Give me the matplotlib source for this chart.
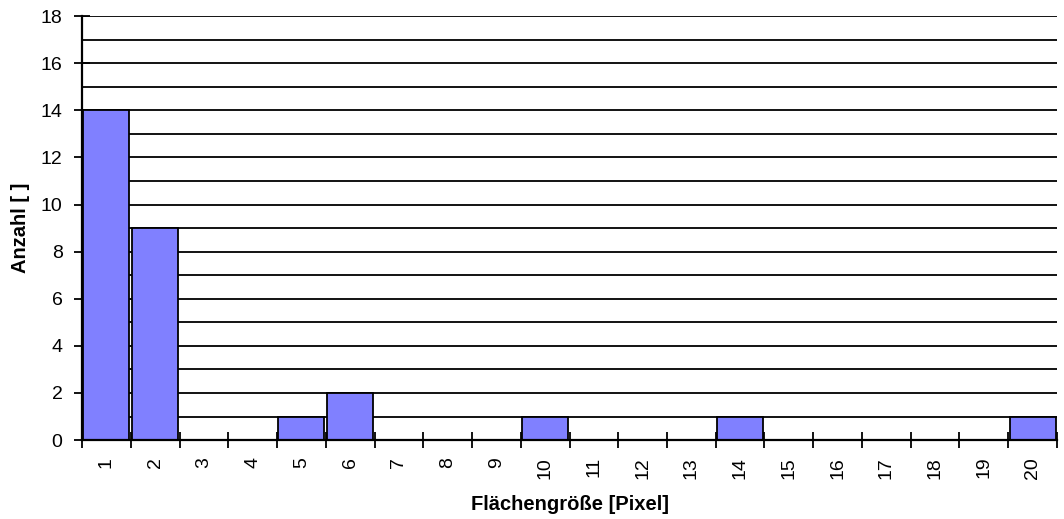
import matplotlib
matplotlib.use("Agg")
import matplotlib.pyplot as plt
import numpy as np

plt.rcParams['font.family'] = ['Liberation Sans', 'DejaVu Sans']

categories = [str(i) for i in range(1, 21)]
counts = [14, 9, 0, 0, 1, 2, 0, 0, 0, 1, 0, 0, 0, 1, 0, 0, 0, 0, 0, 1]

fig = plt.figure(figsize=(10.64, 5.19), dpi=100)
ax = fig.add_axes([0.0771, 0.152, 0.9163, 0.817])

x = np.arange(len(categories))
ax.set_xlim(-0.5, len(categories) - 0.5)
ax.set_ylim(0, 18)

# horizontal gridlines at every unit
for yv in range(1, 19):
    ax.axhline(yv, color='black', lw=1.3, zorder=1)

ax.bar(x, counts, width=0.94, color='#8080FF', edgecolor='black', lw=1.3, zorder=3)

ax.set_yticks(np.arange(0, 19, 2))
ax.set_yticklabels([str(v) for v in range(0, 19, 2)], fontsize=14)
ax.tick_params(axis='y', direction='inout', length=12, width=1.3, pad=8)

# category labels at centers, tick marks at category boundaries
ax.set_xticks(x)
ax.set_xticklabels(categories, rotation=90, fontsize=14)
ax.tick_params(axis='x', which='major', length=0, pad=12)
ax.set_xticks(np.arange(-0.5, len(categories)), minor=True)
ax.tick_params(axis='x', which='minor', direction='inout', length=12, width=1.3)

for side in ['top', 'right']:
    ax.spines[side].set_visible(False)
for side in ['left', 'bottom']:
    ax.spines[side].set_linewidth(1.6)
    ax.spines[side].set_zorder(4)

ax.set_xlabel('Flächengröße [Pixel]', fontsize=14.5, fontweight='bold', labelpad=12)
ax.set_ylabel('Anzahl [ ]', fontsize=14.5, fontweight='bold', labelpad=8)

fig.savefig('out.png', dpi=100)
